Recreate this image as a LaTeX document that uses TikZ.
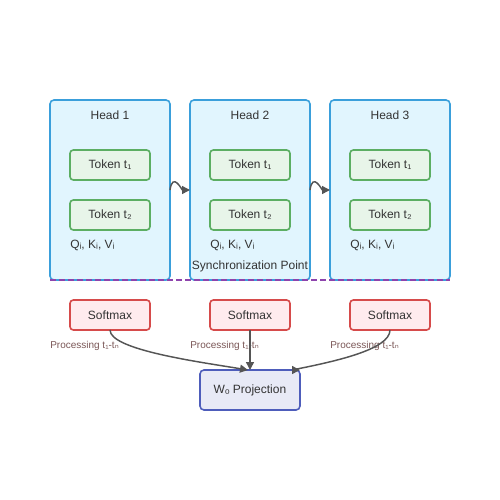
\documentclass[tikz,border=0pt]{standalone}
\usepackage{fontspec}
\setmainfont{Liberation Sans}
\newfontfamily\subfont{DejaVu Sans}
\usetikzlibrary{positioning,arrows.meta}

\definecolor{headfill}{HTML}{E1F5FE}
\definecolor{headline}{HTML}{3A9FDB}
\definecolor{tokenfill}{HTML}{E8F5E9}
\definecolor{tokenline}{HTML}{5CAE63}
\definecolor{softfill}{HTML}{FFEBEE}
\definecolor{softline}{HTML}{D64B4B}
\definecolor{projfill}{HTML}{E8EAF6}
\definecolor{projline}{HTML}{4E5DBB}
\definecolor{syncline}{HTML}{8E44AD}
\definecolor{textgray}{HTML}{333333}
\definecolor{notebrown}{HTML}{7A5656}
\definecolor{arrowgray}{HTML}{555555}

\begin{document}
\begin{tikzpicture}[
        head/.style={
                rectangle,
                draw=headline,
                fill=headfill,
                line width=1.2pt,
                outer sep=0pt,
                rounded corners=3pt,
                minimum width=90pt,
                minimum height=135pt,
            },
        token/.style={
                rectangle,
                draw=tokenline,
                fill=tokenfill,
                line width=1.2pt,
                outer sep=0pt,
                rounded corners=2.5pt,
                text centered,
                minimum width=60pt,
                minimum height=22.5pt,
            },
        softmax/.style={
                rectangle,
                draw=softline,
                fill=softfill,
                line width=1.2pt,
                outer sep=0pt,
                rounded corners=2.5pt,
                text centered,
                minimum width=60pt,
                minimum height=22.5pt,
            },
        proj/.style={
                rectangle,
                draw=projline,
                fill=projfill,
                line width=1.2pt,
                outer sep=0pt,
                rounded corners=3pt,
                text centered,
                minimum width=75pt,
                minimum height=30pt,
            },
        note/.style={inner sep=0pt},
        procnote/.style={
                inner sep=0pt,
                anchor=west,
                text=notebrown,
                font=\fontsize{7.5pt}{9pt}\selectfont,
            },
        link/.style={->, draw=arrowgray, line width=1.1pt},
        >={Triangle[length=6pt,width=6pt]},
        font=\fontsize{9pt}{11pt}\selectfont,
        text=textgray
    ]
    \useasboundingbox (0,0) rectangle (375pt,-375pt);

    \node[head,label={[yshift=-18.25pt]Head 1}] (head1) at (82.5pt,-142.5pt) {};
    \node[head,label={[yshift=-18.25pt]Head 2}] (head2) [right=15pt of head1] {};
    \node[head,label={[yshift=-18.25pt]Head 3}] (head3) [right=15pt of head2] {};

    \node[token] (token11) [below=37.5pt of head1.north] {Token t₁};
    \node[token] (token12) [below=15pt of token11] {Token t₂};
    \node[token] (token21) [below=37.5pt of head2.north] {Token t₁};
    \node[token] (token22) [below=15pt of token21] {Token t₂};
    \node[token] (token31) [below=37.5pt of head3.north] {Token t₁};
    \node[token] (token32) [below=15pt of token31] {Token t₂};

    \node[note,anchor=west] (qkv1) at ([yshift=-11.25pt]token12.south west) {Qᵢ, Kᵢ, Vᵢ};
    \node[note,anchor=west] (qkv2) at ([yshift=-11.25pt]token22.south west) {Qᵢ, Kᵢ, Vᵢ};
    \node[note,anchor=west] (qkv3) at ([yshift=-11.25pt]token32.south west) {Qᵢ, Kᵢ, Vᵢ};

    \node[note] (sync) at ([yshift=10.5pt]head2.south) {Synchronization Point};
    \draw[syncline, line width=1.2pt, dash pattern=on 4.5pt off 2.25pt] (head1.south west) -- (head3.south east);

    \node[softmax] (soft1) [below=15pt of head1] {Softmax};
    \node[softmax] (soft2) [below=15pt of head2] {Softmax};
    \node[softmax] (soft3) [below=15pt of head3] {Softmax};

    \node[procnote] (proc1) at ([xshift=-15pt,yshift=-12pt]soft1.south west) {Processing t₁-t{\subfont ₙ}};
    \node[procnote] (proc2) at ([xshift=-15pt,yshift=-12pt]soft2.south west) {Processing t₁-t{\subfont ₙ}};
    \node[procnote] (proc3) at ([xshift=-15pt,yshift=-12pt]soft3.south west) {Processing t₁-t{\subfont ₙ}};

    \node[proj] (wproj) [below=30pt of soft2] {Wₒ Projection};

    \draw[link] (head1.east) .. controls +(2pt,14pt) and +(-6pt,0pt) .. (head2.west);
    \draw[link] (head2.east) .. controls +(2pt,14pt) and +(-6pt,0pt) .. (head3.west);
    \draw[link] (soft1.south) .. controls +(0pt,-15pt) and +(-36pt,6pt) .. ([xshift=-1.5pt]wproj.north);
    \draw[link] (soft2.south) -- (wproj.north);
    \draw[link] (soft3.south) .. controls +(0pt,-15pt) and +(30pt,6pt) .. ([xshift=-6pt]wproj.north east) -- (wproj.north east);
\end{tikzpicture}
\end{document}
